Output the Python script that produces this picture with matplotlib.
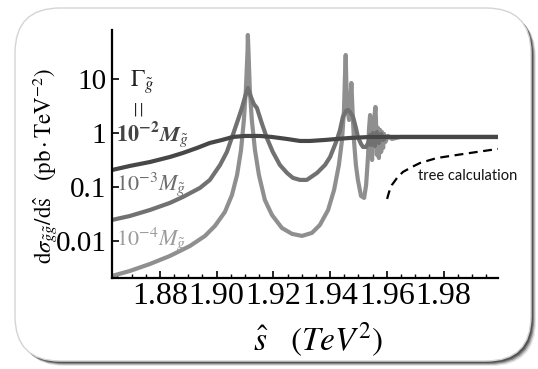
import matplotlib
matplotlib.use("Agg")
import matplotlib.pyplot as plt
from matplotlib.patches import FancyBboxPatch
from matplotlib.transforms import IdentityTransform
from matplotlib.ticker import MultipleLocator, NullLocator, FixedLocator, FixedFormatter

plt.rcParams["mathtext.fontset"] = "stix"
plt.rcParams["font.family"] = ["Liberation Serif", "DejaVu Serif"]

# curve readings, s-hat in TeV^2, cross section in pb/TeV^2
s_light = [1.8631, 1.8694, 1.8765, 1.8835, 1.8906, 1.8959, 1.8994, 1.9029, 1.9054, 1.9072,
           1.9086, 1.9096, 1.9103, 1.9109, 1.9110, 1.9112, 1.9117, 1.9124, 1.9135, 1.9149,
           1.9170, 1.9195, 1.9230, 1.9266, 1.9301, 1.9336, 1.9364, 1.9393, 1.9414, 1.9431,
           1.9442, 1.9449, 1.9452, 1.9455, 1.9457, 1.9461, 1.9467, 1.9472, 1.9475, 1.9479,
           1.9484, 1.9491, 1.9498, 1.9509, 1.9520, 1.9527, 1.9534, 1.9537, 1.9541, 1.9544,
           1.9548, 1.9551, 1.9555, 1.9560, 1.9563, 1.9565, 1.9569, 1.9572, 1.9576, 1.9580,
           1.9583, 1.9587, 1.9590, 1.9595, 1.9604, 1.9618, 1.9647, 1.9992]
y_light = [0.00225, 0.00278, 0.00375, 0.00527, 0.00808, 0.0124, 0.0190, 0.0344, 0.0711, 0.167,
           0.485, 1.74, 6.25, 34.4, 65.3, 34.4, 6.25, 1.74, 0.485, 0.167,
           0.0574, 0.0303, 0.0174, 0.0135, 0.0124, 0.0141, 0.0198, 0.0375, 0.0880, 0.255,
           0.742, 2.67, 9.58, 27.8, 9.58, 2.67, 1.74, 4.08, 8.43, 2.67,
           0.742, 0.255, 0.135, 0.0681, 0.0626, 0.109, 0.392, 1.14, 2.15, 0.742,
           0.316, 0.918, 1.74, 3.03, 1.14, 0.392, 1.24, 0.344, 1.14, 0.445,
           1.04, 0.528, 0.958, 0.681, 0.880, 0.774, 0.843, 0.843]

s_mid = [1.8631, 1.8694, 1.8765, 1.8835, 1.8881, 1.8941, 1.8976, 1.9012, 1.9036, 1.9057,
         1.9075, 1.9089, 1.9100, 1.9110, 1.9121, 1.9131, 1.9142, 1.9160, 1.9177, 1.9198,
         1.9223, 1.9248, 1.9269, 1.9294, 1.9318, 1.9354, 1.9382, 1.9400, 1.9424, 1.9435,
         1.9445, 1.9456, 1.9463, 1.9470, 1.9481, 1.9491, 1.9498, 1.9509, 1.9516, 1.9527,
         1.9534, 1.9541, 1.9544, 1.9551, 1.9558, 1.9565, 1.9572, 1.9580, 1.9587, 1.9597,
         1.9992]
y_mid = [0.0245, 0.0290, 0.0375, 0.0506, 0.0653, 0.0958, 0.135, 0.255, 0.445, 0.918,
         1.74, 2.90, 4.64, 6.81, 4.64, 3.44, 2.90, 1.47, 0.808, 0.445,
         0.255, 0.182, 0.147, 0.135, 0.135, 0.182, 0.255, 0.359, 0.742, 1.14,
         1.98, 2.55, 2.67, 2.45, 1.98, 1.24, 0.843, 0.626, 0.551, 0.551,
         0.653, 0.918, 0.599, 1.00, 0.574, 1.04, 0.653, 0.958, 0.742, 0.843,
         0.843]

s_dark = [1.8631, 1.8694, 1.8765, 1.8835, 1.8881, 1.8931, 1.8976, 1.9019, 1.9057, 1.9100,
          1.9153, 1.9195, 1.9248, 1.9294, 1.9329, 1.9382, 1.9424, 1.9470, 1.9541, 1.9992]
y_dark = [0.206, 0.245, 0.290, 0.359, 0.426, 0.528, 0.653, 0.742, 0.843, 0.880,
          0.880, 0.843, 0.774, 0.711, 0.711, 0.742, 0.774, 0.808, 0.843, 0.843]

s_tree = [1.9601, 1.9608, 1.9618, 1.9636, 1.9657, 1.9689, 1.9717, 1.9777, 1.9848, 1.9918, 1.9992]
y_tree = [0.0600, 0.0810, 0.109, 0.147, 0.190, 0.235, 0.278, 0.344, 0.392, 0.445, 0.506]

xticks = [1.88, 1.90, 1.92, 1.94, 1.96, 1.98]
xticklabels = ["1.88", "1.90", "1.92", "1.94", "1.96", "1.98"]
yticks = [0.01, 0.1, 1, 10]
yticklabels = ["0.01", "0.1", "1", "10"]

fig = plt.figure(figsize=(5.38, 3.69), dpi=100)
fig.patch.set_facecolor("white")

# rounded frame with a soft shadow (pixel coordinates)
for off, a in [(5, 0.10), (4, 0.18), (3, 0.30), (2, 0.35)]:
    fig.add_artist(FancyBboxPatch((15 + off, 8 - off), 516, 353,
                                  boxstyle="round,pad=0,rounding_size=45",
                                  transform=IdentityTransform(), fc="black",
                                  ec="none", alpha=a, zorder=-10))
fig.add_artist(FancyBboxPatch((15, 8), 516, 353,
                              boxstyle="round,pad=0,rounding_size=45",
                              transform=IdentityTransform(), fc="white",
                              ec="#d4d4d4", lw=1, zorder=-9))

ax = fig.add_axes([112 / 538, 1 - 278 / 369, 386 / 538, 248 / 369])
ax.patch.set_alpha(0)

ax.plot(s_light, y_light, color="#8f8f8f", lw=3, solid_joinstyle="round")
ax.plot(s_mid, y_mid, color="#717171", lw=3, solid_joinstyle="round")
ax.plot(s_dark, y_dark, color="#474747", lw=3, solid_joinstyle="round")
ax.plot(s_tree, y_tree, color="black", lw=1.6, dashes=(4, 2.5))

ax.set_yscale("log")
ax.set_xlim(1.8631, 1.9992)
ax.set_ylim(0.00206, 80.7)

ax.xaxis.set_major_locator(FixedLocator(xticks))
ax.xaxis.set_major_formatter(FixedFormatter(xticklabels))
ax.xaxis.set_minor_locator(MultipleLocator(0.005))
ax.yaxis.set_major_locator(FixedLocator(yticks))
ax.yaxis.set_major_formatter(FixedFormatter(yticklabels))
ax.yaxis.set_minor_locator(NullLocator())

for side in ["top", "right"]:
    ax.spines[side].set_visible(False)
for side in ["left", "bottom"]:
    ax.spines[side].set_linewidth(1.6)

ax.tick_params(axis="x", which="major", direction="in", length=5, width=1.2,
               labelsize=23, pad=3)
ax.tick_params(axis="x", which="minor", direction="in", length=3, width=1.0)
ax.tick_params(axis="y", which="major", direction="in", length=5, width=1.2,
               labelsize=21, pad=4)

# width labels
ax.text(0.047, 0.79, r"$\Gamma_{\tilde{g}}$", transform=ax.transAxes,
        fontsize=17, ha="left", va="center", color="#222222")
ax.text(0.075, 0.685, "=", transform=ax.transAxes, rotation=90,
        fontsize=21, ha="center", va="center", color="#222222")
ax.text(0.010, 0.581, r"$\mathbf{10^{-2}}\mathbfit{M}_{\tilde{g}}$", transform=ax.transAxes,
        fontsize=16, ha="left", va="center", color="#444444")
ax.text(0.010, 0.379, r"$10^{-3}M_{\tilde{g}}$", transform=ax.transAxes,
        fontsize=16, ha="left", va="center", color="#6c6c6c")
ax.text(0.010, 0.157, r"$10^{-4}M_{\tilde{g}}$", transform=ax.transAxes,
        fontsize=16, ha="left", va="center", color="#9c9c9c")

fig.text(418 / 538, 1 - 176 / 369, "tree calculation", family="Lato",
         fontsize=10.5, ha="left", va="center", color="#111111")

fig.text(318 / 538, 1 - 340 / 369, r"$\hat{s}\quad(TeV^{2})$", fontsize=24,
         ha="center", va="center")
fig.text(45 / 538, 1 - 166 / 369,
         r"$\mathrm{d}\sigma_{\tilde{g}\tilde{g}}/\mathrm{d}\hat{\mathrm{s}}\quad(\mathrm{pb}\cdot\mathrm{TeV}^{-2})$",
         fontsize=16.5, rotation=90, ha="center", va="center")

fig.savefig("out.png", dpi=100)
